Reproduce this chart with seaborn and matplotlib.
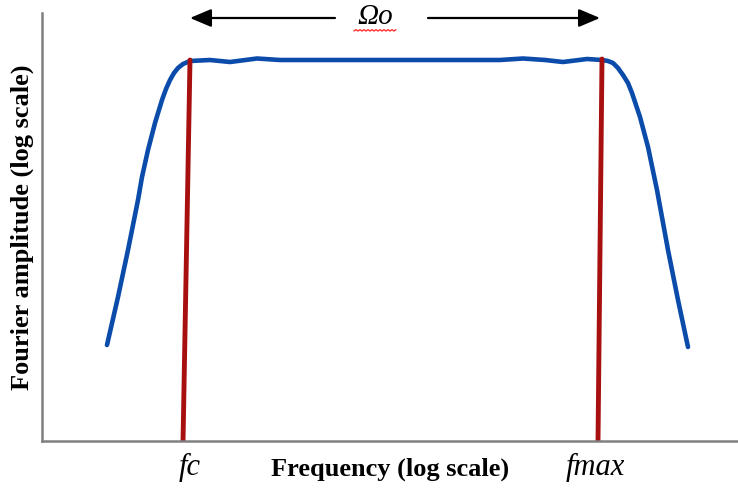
import matplotlib
matplotlib.use("Agg")
import matplotlib.pyplot as plt
import seaborn as sns
import pandas as pd
import numpy as np

# Spectrum shape (x: log-frequency units, y: log-amplitude units)
freq = [65, 76, 86, 96, 100, 106, 113, 120, 124, 128, 132, 136, 141, 148,
        168, 188, 215, 238, 358, 458, 481, 503, 521, 545, 560,
        566, 571, 576, 581, 586, 590, 598, 606, 615, 626, 636, 646]
amp = [96, 144, 191, 241, 264, 291, 318, 341, 352, 361, 368, 373, 377, 380,
       381, 379, 382.5, 381, 381, 381, 382.5, 381, 379, 382, 381,
       380, 378, 373, 366, 358, 348, 324, 294, 251, 191, 141, 94]

fc_x = [141, 148]
fc_y = [-1, 381]
fmax_x = [556, 560]
fmax_y = [-1, 382]

labels = {"fc": "fc", "fmax": "fmax", "omega": "Ωo",
          "xlabel": "Frequency (log scale)", "ylabel": "Fourier amplitude (log scale)"}

sns.set_theme(style="white")
plt.rcParams['font.family'] = ['Liberation Serif', 'DejaVu Serif']

fig = plt.figure(figsize=(7.38, 4.91), dpi=100)
ax = fig.add_axes([42/738, 50/491, 696/738, 428/491])

df = pd.DataFrame({"freq": freq, "amp": amp})
sns.lineplot(data=df, x="freq", y="amp", ax=ax, color="#0B4BAA", linewidth=3.3,
             sort=False, solid_capstyle="round", solid_joinstyle="round")
sns.lineplot(x=fc_x, y=fc_y, ax=ax, color="#A80F0F", linewidth=3.5, sort=False)
sns.lineplot(x=fmax_x, y=fmax_y, ax=ax, color="#A80F0F", linewidth=3.5, sort=False)

ax.set_xlim(0, 696)
ax.set_ylim(0, 428)
ax.set_xticks([])
ax.set_yticks([])
for s in ["top", "right"]:
    ax.spines[s].set_visible(False)
for s in ["left", "bottom"]:
    ax.spines[s].set_color("#808080")
    ax.spines[s].set_linewidth(1.8)

ax.set_xlabel(labels["xlabel"], fontsize=19, fontweight="bold", color="black", labelpad=12)
ax.set_ylabel(labels["ylabel"], fontsize=19, fontweight="bold", color="black", labelpad=6)

# fc / fmax labels
ax.text(148, -26, labels["fc"], fontsize=22, style="italic", ha="center", va="center",
        color="black", clip_on=False)
ax.text(553, -26, labels["fmax"], fontsize=22, style="italic", ha="center", va="center",
        color="black", clip_on=False)

# Omega arrows
arrow_kw = dict(arrowstyle="-|>,head_length=1.3,head_width=0.55",
                color="black", lw=1.6, mutation_scale=10, shrinkA=0, shrinkB=0)
ax.annotate("", xy=(148, 423), xytext=(293, 423), arrowprops=arrow_kw,
            annotation_clip=False)
ax.annotate("", xy=(558, 423), xytext=(386, 423), arrowprops=arrow_kw,
            annotation_clip=False)
ax.text(333, 424, labels["omega"], fontsize=21, style="italic", ha="center",
        va="center", color="black", clip_on=False)
# red wavy underline (spell-check style)
wx = np.linspace(312, 354, 22)
wy = 410 + 1.3 * (np.arange(22) % 2)
ax.plot(wx, wy, color="#ff3030", lw=1.0, clip_on=False)

fig.savefig("out.png", dpi=100)
